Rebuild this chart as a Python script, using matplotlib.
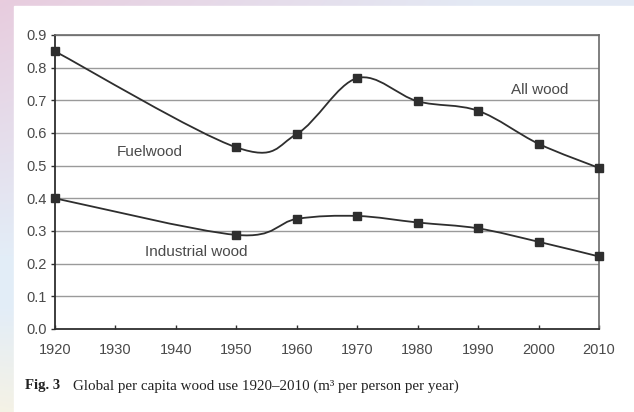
"""Global per capita wood use 1920-2010, smoothed line chart with caption."""

import matplotlib
matplotlib.use("Agg")
import matplotlib.pyplot as plt
from matplotlib.patches import PathPatch
from matplotlib.path import Path
import numpy as np

YEARS = [1920, 1950, 1960, 1970, 1980, 1990, 2000, 2010]
ALL_WOOD = [0.85, 0.556, 0.597, 0.768, 0.697, 0.668, 0.567, 0.493]
INDUSTRIAL_WOOD = [0.40, 0.288, 0.337, 0.346, 0.326, 0.308, 0.267, 0.222]
X_TICKS = [1920, 1930, 1940, 1950, 1960, 1970, 1980, 1990, 2000, 2010]
Y_TICKS = [0.0, 0.1, 0.2, 0.3, 0.4, 0.5, 0.6, 0.7, 0.8, 0.9]

LINE_COLOR = "#2e2e2e"
TEXT_COLOR = "#4a4a4a"
GRID_COLOR = "#9a9a9a"


def smooth_path(xs, ys):
    """Catmull-Rom style Bezier path through the given points."""
    pts = np.column_stack([xs, ys]).astype(float)
    verts = [pts[0]]
    codes = [Path.MOVETO]
    n = len(pts)
    for i in range(n - 1):
        p_prev = pts[i - 1] if i > 0 else pts[i]
        p0 = pts[i]
        p1 = pts[i + 1]
        p_next = pts[i + 2] if i + 2 < n else pts[i + 1]
        c1 = p0 + (p1 - p_prev) / 6.0
        c2 = p1 - (p_next - p0) / 6.0
        verts.extend([c1, c2, p1])
        codes.extend([Path.CURVE4] * 3)
    return Path(verts, codes)


fig = plt.figure(figsize=(6.34, 4.12), dpi=100)

# tinted backdrop along the left and top edges, white page on top
bg = fig.add_axes([0, 0, 1, 1])
bg.set_axis_off()
rows = np.linspace(0, 1, 200)[:, None]
cols = np.linspace(0, 1, 300)[None, :]
pink = np.array([0.91, 0.80, 0.87])
blue = np.array([0.89, 0.93, 0.97])
cream = np.array([0.96, 0.95, 0.90])
mix_v = np.clip(rows * 1.6, 0, 1)[..., None]
left = pink * (1 - mix_v) + blue * mix_v
low = np.clip((rows - 0.75) * 4, 0, 1)[..., None]
left = left * (1 - low) + cream * low
mix_h = np.clip(cols * 1.3, 0, 1)[..., None]
img = left * (1 - mix_h * 0.9) + blue * (mix_h * 0.9)
bg.imshow(img, aspect="auto", extent=[0, 1, 0, 1], origin="upper")
bg.add_patch(plt.Rectangle((14 / 634, 0), 1, 1 - 6 / 412, color="white",
                           transform=bg.transAxes))
bg.set_xlim(0, 1)
bg.set_ylim(0, 1)

ax = fig.add_axes([55 / 634, 1 - 329 / 412, 544 / 634, 294 / 412])
ax.set_xlim(1920, 2010)
ax.set_ylim(0, 0.9)
ax.set_facecolor("white")

for y in Y_TICKS[1:]:
    ax.axhline(y, color=GRID_COLOR, lw=1.0, zorder=1)

for series in (ALL_WOOD, INDUSTRIAL_WOOD):
    ax.add_patch(PathPatch(smooth_path(YEARS, series), facecolor="none",
                           edgecolor=LINE_COLOR, lw=1.3, zorder=3))
    ax.plot(YEARS, series, ls="none", marker="s", ms=6, color=LINE_COLOR,
            zorder=4, clip_on=False)

label_font = dict(ha="center", va="center", color=TEXT_COLOR, fontsize=11,
                  family="Liberation Sans")
ax.text(1935.7, 0.541, "Fuelwood", **label_font)
ax.text(2000.2, 0.731, "All wood", **label_font)
ax.text(1943.4, 0.236, "Industrial wood", **label_font)

ax.set_xticks(X_TICKS)
ax.set_yticks(Y_TICKS)
ax.set_yticklabels([f"{v:.1f}" for v in Y_TICKS])
ax.tick_params(axis="x", direction="in", length=3, width=1, color=LINE_COLOR,
               labelsize=10.5, labelcolor=TEXT_COLOR, pad=10)
ax.tick_params(axis="y", direction="out", length=3, width=1, color=LINE_COLOR,
               labelsize=10.5, labelcolor=TEXT_COLOR, pad=3)
for label in ax.get_xticklabels() + ax.get_yticklabels():
    label.set_family("Liberation Sans")

for side in ("left", "bottom"):
    ax.spines[side].set_color(LINE_COLOR)
    ax.spines[side].set_linewidth(1.3)
for side in ("top", "right"):
    ax.spines[side].set_color("#6a6a6a")
    ax.spines[side].set_linewidth(1.2)

fig.text(25 / 634, 1 - 386 / 412, "Fig. 3", fontsize=10.6, fontweight="bold",
         family="Liberation Serif", color="#222222", va="center")
fig.text(73 / 634, 1 - 386 / 412,
         "Global per capita wood use 1920\u20132010 (m\u00b3 per person per year)",
         fontsize=10.8, family="Liberation Serif", color="#222222", va="center")

fig.savefig("out.png", dpi=100)
